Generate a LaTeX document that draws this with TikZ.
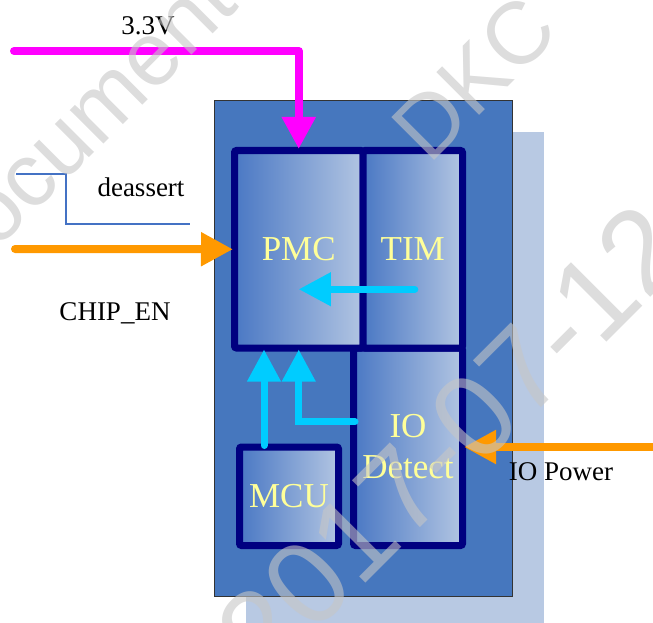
\documentclass[tikz,border=0pt]{standalone}
\usepackage{fontspec}
\setmainfont{Liberation Serif}
\newfontfamily\wmfont{Liberation Sans}
\usetikzlibrary{arrows.meta,calc}
\definecolor{bgblue}{RGB}{70,119,190}
\definecolor{shadowblue}{RGB}{184,201,227}
\definecolor{navyline}{RGB}{0,0,128}
\definecolor{gradleft}{RGB}{74,120,196}
\definecolor{gradright}{RGB}{178,197,226}
\definecolor{labelyellow}{RGB}{255,255,153}
\definecolor{magentaline}{RGB}{255,0,255}
\definecolor{orangeline}{RGB}{255,153,0}
\definecolor{cyanline}{RGB}{0,204,255}
\definecolor{signalblue}{RGB}{68,114,196}
\definecolor{wmgray}{RGB}{198,198,198}
\begin{document}
\begin{tikzpicture}[x=1pt,y=-1pt,
  block/.style={draw=navyline, line width=7pt, rounded corners=2pt,
    left color=gradleft, right color=gradright, text=labelyellow,
    font=\fontsize{35}{41}\selectfont, align=center, inner sep=0pt, outer sep=1.5pt},
  lbl/.style={text=black, font=\fontsize{27}{30}\selectfont, inner sep=0pt, anchor=base},
  bigarrow/.style={line width=8pt, line cap=round, line join=round},
  thinarrow/.style={line width=7pt, line cap=round, line join=miter},
  tiphead/.style={-{Triangle[length=32pt,width=32pt]}},
  wm/.style={text=wmgray, opacity=0.6, text opacity=0.6, rotate=45, inner sep=0pt}
]
\useasboundingbox (0,0) rectangle (653,623);
% shadow and chip body
\fill[shadowblue] (246,132) rectangle (544,623);
\draw[fill=bgblue, draw=black!80, line width=0.8pt] (214,100) rectangle (512,596);
% blocks
\node[block, minimum width=109pt, minimum height=197.5pt] (io) at (408,446.75) {IO\\Detect};
\node[block, minimum width=128.5pt, minimum height=197.5pt] (pmc) at (298.75,249.25) {PMC};
\node[block, minimum width=99.5pt, minimum height=197.5pt] (tim) at (412.75,249.25) {TIM};
\node[block, minimum width=99pt, minimum height=98.5pt] (mcu) at (289,496.25) {MCU};
% free ends and bends
\coordinate (vin) at (14,51);
\coordinate (chipin) at (15,249);
\coordinate (iopin) at (655,447);
\coordinate (d1) at (16,174);
\coordinate (d2) at (66,174);
\coordinate (d3) at (66,224);
\coordinate (d4) at (190,224);
\coordinate (timtail) at ($(tim.center)+(2,40)$);
\coordinate (pmchit) at ($(pmc.center)+(0,40)$);
\coordinate (mcutail) at ($(mcu.north)+(-25,0)$);
\coordinate (iotail) at ($(io.west)+(3,-25)$);
% labels
\node[lbl] (l33) at (148,35) {3.3V};
\node[lbl] (ldeassert) at (141,196) {deassert};
\node[lbl] (lchip) at (115,320) {CHIP\_EN};
\node[lbl] (liop) at (561,480) {IO Power};
% deassert waveform
\draw[signalblue, line width=1.2pt] (d1) -- (d2) -- (d3) -- (d4);
% power / enable arrows
\draw[bigarrow, tiphead, magentaline] (vin) -| (pmc.north);
\draw[bigarrow, tiphead, orangeline] (chipin) -- (pmc.west);
\draw[bigarrow, tiphead, orangeline, line cap=butt] (iopin) -- (io.east |- iopin);
% internal arrows
\draw[thinarrow, tiphead, cyanline] (timtail) -- (pmchit);
\draw[thinarrow, tiphead, cyanline] (mcutail) -- (mcutail |- pmc.south);
\draw[thinarrow, tiphead, cyanline] (iotail) -| (pmc.south);
% watermark
\node[wm, font=\wmfont\fontsize{90}{90}\selectfont] (wm1) at (74,130) {Document};
\node[wm, font=\wmfont\fontsize{88}{88}\selectfont] (wm2) at (474,78) {DKC};
\node[wm, font=\wmfont\fontsize{118}{118}\selectfont] (wm3) at (451,440) {2017-07-12};
\end{tikzpicture}
\end{document}
